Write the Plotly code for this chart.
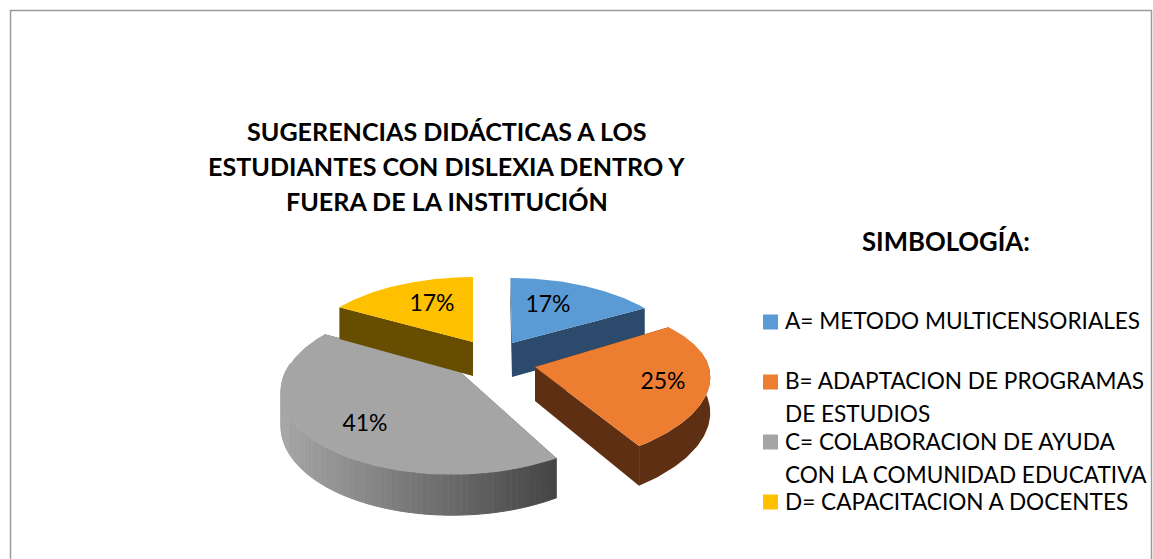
import numpy as np
import plotly.graph_objects as go

# --- chart data ---
categories = ["A", "B", "C", "D"]
shares = [17, 25, 41, 17]
percent_labels = ["17%", "25%", "41%", "17%"]
title_lines = ["SUGERENCIAS DIDÁCTICAS A LOS",
               "ESTUDIANTES CON DISLEXIA DENTRO Y",
               "FUERA DE LA INSTITUCIÓN"]
legend_title = "SIMBOLOGÍA:"
legend_lines = [["A= METODO MULTICENSORIALES"],
                ["B= ADAPTACION DE PROGRAMAS", "DE ESTUDIOS"],
                ["C= COLABORACION DE AYUDA", "CON LA COMUNIDAD EDUCATIVA"],
                ["D= CAPACITACION A DOCENTES"]]

# --- styles and layout geometry ---
W, H = 1153, 559
top_colors = ["#5b9bd5", "#ed7d31", "#a5a5a5", "#ffc000"]
side_colors = ["#2c4a6b", "#5f2f13", "#606060", "#664d00"]
FONT = "Lato"
# apex x, apex y, radius, vertical radius, perspective, shear, lean
wedge_geo = [
    (512, 343, 170, 80.5, 0.238, 0.0, -2.0),
    (535, 367, 170, 76.0, 0.243, 9.0, 0.0),
    (457, 369, 170, 80.5, 0.238, 0.0, 3.5),
    (473, 342, 170, 80.5, 0.238, 0.0, 0.0),
]
DEPTH = 34
draw_order = [0, 1, 2, 3]
label_pos = [(548, 306), (663, 383), (365, 425), (432, 305)]
legend_key_y = [322, 382, 442, 502]
legend_text_y = [[320], [380, 413], [441, 474], [501]]

fig = go.Figure()


def poly(xs, ys, color, outline=0.0):
    fig.add_trace(go.Scatter(
        x=list(xs), y=list(ys), mode="lines", fill="toself", fillcolor=color,
        line=dict(color=color, width=outline), hoverinfo="skip", showlegend=False))


def project(theta, r, geo):
    cx, cy, R, Rt, k, shear, lean = geo
    u, v = r * np.sin(theta), r * np.cos(theta)
    w = 1 + k * v
    return (cx + (R * u + lean * v) / w,
            cy - (Rt * v + shear * u) / w,
            DEPTH / w ** 0.65)


def shade_gray(x, x0, x1):
    t = np.clip((x - x0) / (x1 - x0), 0, 1)
    g = int(round(0xa6 + (0x44 - 0xa6) * t))
    return f"rgb({g},{g},{g})"


edges = np.cumsum([0] + shares) / sum(shares) * 2 * np.pi
for i in draw_order:
    geo = wedge_geo[i]
    a0, a1 = edges[i], edges[i + 1]
    th = np.linspace(a0, a1, 90)
    ax_, ay_, ad = project(0.0, 0.0, geo)
    sx, sy, sd = project(th, 1.0, geo)
    # straight cut faces
    for j in (0, -1):
        poly([ax_, sx[j], sx[j], ax_], [ay_, sy[j], sy[j] + sd[j], ay_ + ad],
             side_colors[i])
    # outer wall, only where it faces the viewer
    front = np.cos(th) < 0.08
    if front.any():
        xs, ys, ds = sx[front], sy[front], sd[front]
        if categories[i] == "C":
            x0, x1 = xs.min(), xs.max()
            for j in range(len(xs) - 1):
                mid = (xs[j] + xs[j + 1]) / 2
                poly([xs[j], xs[j + 1], xs[j + 1], xs[j]],
                     [ys[j], ys[j + 1], ys[j + 1] + ds[j + 1], ys[j] + ds[j]],
                     shade_gray(mid, x0, x1), outline=1.0)
        else:
            poly(list(xs) + list(xs[::-1]),
                 list(ys) + list((ys + ds)[::-1]), side_colors[i])
    # top surface
    poly([ax_] + list(sx), [ay_] + list(sy), top_colors[i])

# percent labels
fig.add_trace(go.Scatter(
    x=[p[0] for p in label_pos], y=[p[1] for p in label_pos],
    text=percent_labels, mode="text", textposition="middle center",
    textfont=dict(family=FONT, size=23, color="#000000"),
    hoverinfo="skip", showlegend=False))

# legend keys
fig.add_trace(go.Scatter(
    x=[770.5] * 4, y=legend_key_y, mode="markers",
    marker=dict(symbol="square", size=15, color=top_colors, line=dict(width=0)),
    hoverinfo="skip", showlegend=False))

annotations = []


def text(x, y, s, size, bold=False, anchor="left"):
    annotations.append(dict(
        x=x, y=y, xref="x", yref="y", text=f"<b>{s}</b>" if bold else s,
        showarrow=False, xanchor=anchor, yanchor="middle",
        font=dict(family=FONT, size=size, color="#000000")))


for line, y in zip(title_lines, [131, 166, 201]):
    text(446.5, y, line, 25.1, bold=True, anchor="center")
text(946, 241, legend_title, 25.7, bold=True, anchor="center")
for lines, ys in zip(legend_lines, legend_text_y):
    for line, y in zip(lines, ys):
        text(783, y, line, 22.6)

fig.update_layout(
    width=W, height=H, margin=dict(l=0, r=0, t=0, b=0),
    paper_bgcolor="white", plot_bgcolor="white", showlegend=False,
    xaxis=dict(range=[0, W], visible=False, fixedrange=True),
    yaxis=dict(range=[H, 0], visible=False, fixedrange=True),
    annotations=annotations,
    shapes=[dict(type="path", path=f"M 10.5 {H+5} L 10.5 10.5 L 1151.5 10.5 L 1151.5 {H+5}",
                 line=dict(color="#9a9a9a", width=1.5), xref="x", yref="y")],
)
fig.write_html("out.html", config=dict(displayModeBar=False),
               post_script="document.body.style.margin='0';document.body.style.overflow='hidden';")
